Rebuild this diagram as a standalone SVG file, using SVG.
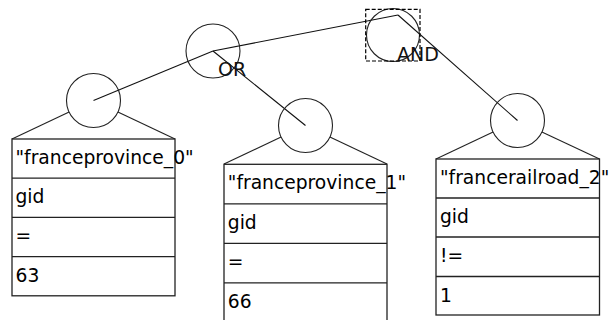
<svg xmlns="http://www.w3.org/2000/svg" width="611" height="320" viewBox="0 0 611 320">
<style>
.bg{fill:#fff}
.c{fill:none;stroke:#222;stroke-width:1.1}
.e{fill:none;stroke:#111;stroke-width:1.1}
.b{fill:#fff;stroke:#222;stroke-width:1.3}
.sel{fill:none;stroke:#000;stroke-width:1.2;stroke-dasharray:4,2}
.t{font-family:"DejaVu Sans",Verdana,sans-serif;font-size:18.7px;fill:#000}
.lb{font-family:"DejaVu Sans",Verdana,sans-serif;font-size:19px;fill:#111}
</style>
<rect class="bg" x="0" y="0" width="611" height="320"/>
<g id="connectors">
<line class="e" x1="93.5" y1="100.5" x2="213" y2="51"/>
<line class="e" x1="213" y1="51" x2="398" y2="15"/>
<line class="e" x1="398" y1="15" x2="517.5" y2="120.5"/>
<line class="e" x1="213" y1="51" x2="305.5" y2="125.5"/>
</g>
<g id="node-and">
<circle class="c" cx="393" cy="35" r="26.5"/>
<rect class="sel" x="365.7" y="9.3" width="54.3" height="51.7"/>
<text class="lb" x="397" y="61">AND</text>
</g>
<g id="node-or">
<circle class="c" cx="213" cy="51" r="27"/>
<text class="lb" x="218" y="76">OR</text>
</g>
<g id="node-leaf0">
<circle class="c" cx="93.5" cy="100.5" r="27"/>
<line class="c" x1="12" y1="139" x2="69.1" y2="112"/>
<line class="c" x1="175" y1="139" x2="117.9" y2="112"/>
<rect class="b" x="12" y="139" width="163" height="156.8"/>
<line class="b" x1="12" y1="178.2" x2="175" y2="178.2"/>
<line class="b" x1="12" y1="217.4" x2="175" y2="217.4"/>
<line class="b" x1="12" y1="256.6" x2="175" y2="256.6"/>
<text class="t" x="15.5" y="164">"franceprovince_0"</text>
<text class="t" x="15.5" y="203.2">gid</text>
<text class="t" x="15.5" y="242.4">=</text>
<text class="t" x="15.5" y="281.6">63</text>
</g>
<g id="node-leaf1">
<circle class="c" cx="305.5" cy="125.5" r="27"/>
<line class="c" x1="224" y1="164" x2="281.1" y2="137"/>
<line class="c" x1="387" y1="164" x2="329.9" y2="137"/>
<rect class="b" x="224" y="164.3" width="163" height="158"/>
<line class="b" x1="224" y1="203.8" x2="387" y2="203.8"/>
<line class="b" x1="224" y1="243.3" x2="387" y2="243.3"/>
<line class="b" x1="224" y1="282.8" x2="387" y2="282.8"/>
<text class="t" x="227.8" y="189.3">"franceprovince_1"</text>
<text class="t" x="227.8" y="228.8">gid</text>
<text class="t" x="227.8" y="268.3">=</text>
<text class="t" x="227.8" y="307.8">66</text>
</g>
<g id="node-leaf2">
<circle class="c" cx="517.5" cy="120.5" r="27"/>
<line class="c" x1="436" y1="159" x2="493.1" y2="132"/>
<line class="c" x1="599.5" y1="159" x2="541.9" y2="132"/>
<rect class="b" x="436" y="159" width="163.5" height="156"/>
<line class="b" x1="436" y1="198" x2="599.5" y2="198"/>
<line class="b" x1="436" y1="237" x2="599.5" y2="237"/>
<line class="b" x1="436" y1="276.5" x2="599.5" y2="276.5"/>
<text class="t" x="440" y="184">"francerailroad_2"</text>
<text class="t" x="440" y="223">gid</text>
<text class="t" x="440" y="262">!=</text>
<text class="t" x="440" y="301.5">1</text>
</g>
</svg>
